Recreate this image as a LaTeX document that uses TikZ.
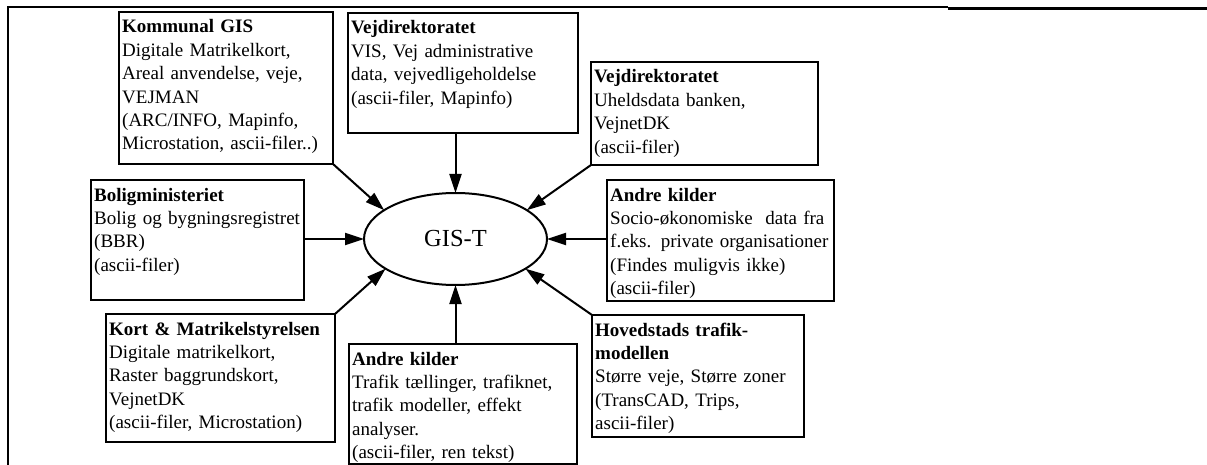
\documentclass[tikz,border=0pt]{standalone}
\usepackage{fontspec}
\setmainfont{Liberation Serif}
\usetikzlibrary{arrows.meta,shapes.geometric,calc}
\newcommand\srcnode[6]{%
  \node[srcbox,minimum width={(#4-#2)*1pt},minimum height={(#5-#3)*1pt}] (#1) at (#2,#3) {};
  \node[srctext] (#1t) at ($(#1.north west)+(3,21)$) {#6};}
\begin{document}
\begin{tikzpicture}[x=1pt,y=-1pt,
  srcbox/.style={draw,line width=2pt,anchor=north west,inner sep=0pt,outer sep=0pt},
  srctext/.style={anchor=base west,inner sep=0pt,text width=300pt,align=left,
    font=\fontsize{19}{23.4}\selectfont},
  hub/.style={ellipse,draw,line width=2pt,minimum width=183pt,minimum height=92pt,
    inner sep=0pt,outer sep=0pt,font=\fontsize{24.5}{28}\selectfont},
  feed/.style={line width=2pt,-{Triangle[length=19pt,width=12pt]}},
  framerule/.style={line width=2pt}]
\useasboundingbox (0,0) rectangle (1207,465);
\fill[white] (0,0) rectangle (1207,465);
\draw[framerule] (8,466) -- (8,7) -- (948,7);
\draw[line width=2.4pt] (948,8.5) -- (1207,8.5);

\node[hub] (gis) at (455.5,239) {GIS-T};

\srcnode{kom}{119}{12}{333}{164}{\textbf{Kommunal GIS}\\Digitale Matrikelkort,\\Areal anvendelse, veje,\\VEJMAN\\(ARC/INFO, Mapinfo,\\Microstation, ascii-filer..)}
\srcnode{vejA}{348}{13}{578}{133}{\textbf{Vejdirektoratet}\\VIS, Vej administrative\\data, vejvedligeholdelse\\(ascii-filer, Mapinfo)}
\srcnode{vejB}{591}{62}{818}{165}{\textbf{Vejdirektoratet}\\Uheldsdata banken,\\VejnetDK\\(ascii-filer)}
\srcnode{bol}{91}{180}{304}{300}{\textbf{Boligministeriet}\\Bolig og bygningsregistret\\(BBR)\\(ascii-filer)}
\srcnode{andA}{607}{180}{834}{301}{\textbf{Andre kilder}\\Socio-økonomiske~ data fra\\f.eks. private organisationer\\(Findes muligvis ikke)\\(ascii-filer)}
\srcnode{kort}{106}{314}{335}{442}{\textbf{Kort \& Matrikelstyrelsen}\\Digitale matrikelkort,\\Raster baggrundskort,\\VejnetDK\\(ascii-filer, Microstation)}
\srcnode{andB}{349}{344}{577}{464}{\textbf{Andre kilder}\\Trafik tællinger, trafiknet,\\trafik modeller, effekt\\analyser.\\(ascii-filer, ren tekst)}
\srcnode{hov}{592}{315}{804}{437}{\textbf{Hovedstads trafik-}\\\textbf{modellen}\\Større veje, Større zoner\\(TransCAD, Trips,\\ascii-filer)}

\draw[feed] (kom.south east) -- (gis.158);
\draw[feed] (gis.north |- vejA.south) -- (gis.north);
\draw[feed] (vejB.south west) -- (gis.22);
\draw[feed] (bol.east |- gis.west) -- (gis.west);
\draw[feed] (andA.west |- gis.east) -- (gis.east);
\draw[feed] (kort.north east) -- (gis.203);
\draw[feed] (gis.south |- andB.north) -- (gis.south);
\draw[feed] (hov.north west) -- (gis.337);
\end{tikzpicture}
\end{document}
